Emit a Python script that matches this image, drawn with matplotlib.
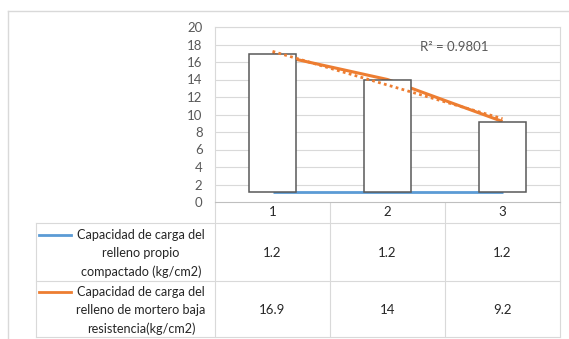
import numpy as np
import matplotlib
matplotlib.use("Agg")
import matplotlib.pyplot as plt
from matplotlib.lines import Line2D

# data
categories = ["1", "2", "3"]
relleno_propio = [1.2, 1.2, 1.2]
relleno_mortero = [16.9, 14, 9.2]
series_names = [
    "Capacidad de carga del\nrelleno propio\ncompactado (kg/cm2)",
    "Capacidad de carga del\nrelleno de mortero baja\nresistencia(kg/cm2)",
]
y_ticks = [0, 2, 4, 6, 8, 10, 12, 14, 16, 18, 20]

BLUE = "#5B9BD5"
ORANGE = "#ED7D31"
GRID = "#d9d9d9"
TXT = "#595959"

plt.rcParams["font.family"] = ["Lato", "DejaVu Sans"]

W, H = 569, 339
fig = plt.figure(figsize=(W / 100, H / 100), dpi=100)

# plot area in pixels
L, R, T, B = 215, 560, 27, 202
ax = fig.add_axes([L / W, 1 - B / H, (R - L) / W, (B - T) / H])

x = np.arange(1, len(categories) + 1)
ax.plot(x, relleno_propio, color=BLUE, lw=2, zorder=2, solid_capstyle="butt")
ax.plot(x, relleno_mortero, color=ORANGE, lw=2.2, zorder=2, solid_capstyle="butt")

# up/down bars between the two series
lo = np.array(relleno_propio)
hi = np.array(relleno_mortero)
ax.bar(x, hi - lo, bottom=lo, width=0.41, facecolor="white",
       edgecolor="#595959", linewidth=1.1, zorder=3)

# linear trendline of the orange series
k, b = np.polyfit(x, hi, 1)
fit = k * x + b
r2 = 1 - np.sum((hi - fit) ** 2) / np.sum((hi - hi.mean()) ** 2)
ax.plot(x, fit, color=ORANGE, lw=2, ls=(0, (1, 1.2)), zorder=4)
ax.text(2.28, 17.7, "R² = %.4f" % r2, color=TXT, fontsize=9.5,
        ha="left", va="center", zorder=5)

ax.set_xlim(0.5, len(categories) + 0.5)
ax.set_ylim(0, 20)
ax.set_yticks(y_ticks)
ax.set_yticklabels([str(t) for t in y_ticks])
ax.set_xticks([])
ax.tick_params(axis="y", length=0, pad=9, labelsize=9.5, labelcolor=TXT)
for yt in y_ticks[1:]:
    ax.axhline(yt, color=GRID, lw=0.8, zorder=0)
for s in ["left", "right", "top"]:
    ax.spines[s].set_color(GRID)
    ax.spines[s].set_linewidth(0.8)
ax.spines["bottom"].set_color("#bfbfbf")
ax.spines["bottom"].set_linewidth(0.8)

# data table drawn on an overlay in pixel coordinates
tab = fig.add_axes([0, 0, 1, 1], zorder=-1)
tab.set_xlim(0, W)
tab.set_ylim(H, 0)
tab.axis("off")

cw = (R - L) / len(categories)
centers = [L + (i - 0.5) * cw for i in x]
row_top = [223, 281]
row_bot = [281, 337]
TL = 36

# outer chart border
tab.plot([8, 8], [11, H], color=GRID, lw=1)
tab.plot([8, W], [11, 11], color=GRID, lw=1)

for yy in [223, 281, 337]:
    tab.plot([TL, R], [yy, yy], color=GRID, lw=0.8)
tab.plot([TL, TL], [223, 337], color=GRID, lw=0.8)
for i in range(len(categories) + 1):
    xx = L + i * cw
    tab.plot([xx, xx], [B, 337], color=GRID, lw=0.8)

for c, lab in zip(centers, categories):
    tab.text(c, 212.5, lab, ha="center", va="center", fontsize=9.5, color="#262626")

rows = [relleno_propio, relleno_mortero]
colors = [BLUE, ORANGE]
for r, (vals, name, col) in enumerate(zip(rows, series_names, colors)):
    ymid = (row_top[r] + row_bot[r]) / 2
    tab.text(141, ymid + 1.5, name, ha="center", va="center", fontsize=9.1,
             color="#262626", linespacing=1.65)
    tab.add_line(Line2D([39, 71], [ymid - 17, ymid - 17], color=col, lw=2))
    for c, v in zip(centers, vals):
        tab.text(c, ymid + 1, "%g" % v, ha="center", va="center",
                 fontsize=9.5, color="#262626")

fig.savefig("out.png", dpi=100, facecolor="white")
